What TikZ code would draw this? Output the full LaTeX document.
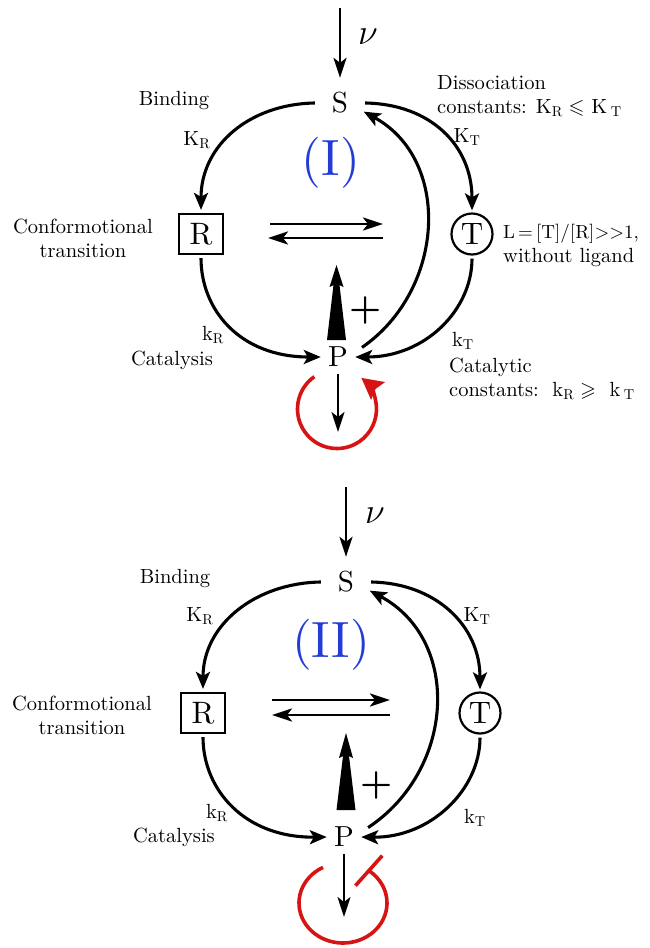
\documentclass[tikz,border=0pt]{standalone}
\usepackage{fix-cm}
\usepackage{amssymb}
\usepackage{fontspec}
\setmainfont{lmroman10-regular.otf}[BoldFont=lmroman10-bold.otf]
\usetikzlibrary{arrows.meta,calc}
\definecolor{myblue}{RGB}{35,60,215}
\definecolor{myred}{RGB}{215,20,20}
\tikzset{
  lbl/.style={font=\fontsize{20.5}{24}\selectfont, inner sep=0pt},
  lblL/.style={lbl, align=left, anchor=west},
  lblC/.style={lbl, align=center},
  let/.style={font=\fontsize{29}{32}\selectfont, circle, inner sep=0pt, minimum size=#1},
  boxR/.style={font=\fontsize{31}{32}\selectfont, rectangle, draw, line width=2.2pt, inner sep=0pt, minimum width=44pt, minimum height=40pt},
  circT/.style={font=\fontsize{31}{32}\selectfont, circle, draw, line width=2.2pt, inner sep=0pt, minimum size=41pt},
  roman/.style={font=\fontsize{51}{54}\selectfont, text=myblue, inner sep=0pt},
  nulbl/.style={font=\fontsize{36}{40}\selectfont, inner sep=0pt},
  pluslbl/.style={font=\fontsize{36}{40}\selectfont\bfseries, inner sep=0pt},
  curve/.style={line width=3.1pt, -{Stealth[length=17pt,width=14pt,inset=4pt]}},
  thinarr/.style={line width=2.2pt, -{Stealth[length=20pt,width=13pt,inset=5pt]}},
  eqarr/.style={line width=2.9pt, -{Stealth[length=20pt,width=13pt,inset=5pt]}},
  redloop/.style={line width=3.6pt, draw=myred},
}
\begin{document}
\begin{tikzpicture}[x=1pt,y=-1pt]
\useasboundingbox[fill=white] (0,0) rectangle (650,948);

%%%%%%%%%%%%%%%% Panel I %%%%%%%%%%%%%%%%
\node[let=50pt] (SI) at (340,103) {S};
\node[boxR] (RI) at (201,234) {R};
\node[circT] (TI) at (472,234) {T};
\node[let=34pt] (PI) at (338,357) {P};

\coordinate (nuIs) at (340,8);
\draw[thinarr] (nuIs) -- (SI.north);
\node[nulbl] (nuI) at (368,37) {$\nu$};

\node[lbl] (binI) at (174,100) {Binding};
\node[lbl] (KRI) at (197,140) {K$_\mathrm{R}$};
\node[lblL] (disI) at (437,96) {Dissociation\\constants: K$_\mathrm{R}\leqslant$ K\,$_\mathrm{T}$};
\node[lbl] (KTI) at (467,137) {K$_\mathrm{T}$};
\node[roman] (titleI) at (331,163) {(I)};
\node[lblC] (confI) at (83,238) {Conformotional\\transition};
\node[lblL] (LI) at (503,245) {{\fontsize{19}{24}\selectfont L\,=\,[T]/[R]>{}>1,}\\without ligand};
\node[lbl] (kRI) at (213,335) {k$_\mathrm{R}$};
\node[lbl] (catI) at (172,360) {Catalysis};
\node[lbl] (kTI) at (463,341) {k$_\mathrm{T}$};
\node[lblL] (catcI) at (449,379) {Catalytic\\constants:\ \ k$_\mathrm{R}\geqslant$\ \ k\,$_\mathrm{T}$};
\node[pluslbl] (plusI) at (366,310) {+};

\draw[curve] (SI.west) .. controls (250,104) and (201,145) .. ([yshift=3pt]RI.north);
\draw[curve] (SI.east) .. controls (430,104) and (472,145) .. ([yshift=2pt]TI.north);
\draw[curve, shorten <=3pt] (RI.south) .. controls (201,310) and (240,357) .. (PI.west);
\draw[curve, shorten <=3pt] (TI.south) .. controls (472,310) and (425,357) .. (PI.east);
\draw[curve, shorten <=9pt] (PI.15) .. controls (445,290) and (452,160) .. (SI.-20);

\coordinate (eqIa) at (270,224);
\coordinate (eqIb) at (383,224);
\coordinate (eqIc) at (383,238);
\coordinate (eqId) at (268,238);
\draw[eqarr] (eqIa) -- (eqIb);
\draw[eqarr] (eqIc) -- (eqId);

\fill (327,340) -- (333.5,285) -- (329.5,287) -- (336.5,265) -- (343.5,287) -- (339.5,285) -- (346,340) -- cycle;

\coordinate (outI) at (338,432);
\draw[thinarr] (PI.south) -- (outI);

\coordinate (cI) at (337,409);
\draw[redloop, -{Stealth[length=21pt,width=22pt,inset=3pt]}] ($(cI)+(125:39.5pt)$) arc[start angle=125, end angle=412, radius=39.5pt];

%%%%%%%%%%%%%%%% Panel II %%%%%%%%%%%%%%%%
\node[let=50pt] (SII) at (346,582) {S};
\node[boxR] (RII) at (203,713) {R};
\node[circT] (TII) at (480,713) {T};
\node[let=34pt] (PII) at (344,837) {P};

\coordinate (nuIIs) at (346,487);
\draw[thinarr] (nuIIs) -- (SII.north);
\node[nulbl] (nuII) at (375,516) {$\nu$};

\node[lbl] (binII) at (175,578) {Binding};
\node[lbl] (KRII) at (200,616) {K$_\mathrm{R}$};
\node[lbl] (KTII) at (477,616) {K$_\mathrm{T}$};
\node[roman] (titleII) at (331,645) {(II)};
\node[lblC] (confII) at (82,715) {Conformotional\\transition};
\node[lbl] (kRII) at (217,813) {k$_\mathrm{R}$};
\node[lbl] (catII) at (174,837) {Catalysis};
\node[lbl] (kTII) at (475,818) {k$_\mathrm{T}$};
\node[pluslbl] (plusII) at (377,785) {+};

\draw[curve] (SII.west) .. controls (255,583) and (203,625) .. ([yshift=3pt]RII.north);
\draw[curve] (SII.east) .. controls (435,583) and (480,625) .. ([yshift=2pt]TII.north);
\draw[curve, shorten <=3pt] (RII.south) .. controls (203,790) and (245,838) .. (PII.west);
\draw[curve, shorten <=3pt] (TII.south) .. controls (480,790) and (430,838) .. (PII.east);
\draw[curve, shorten <=9pt] (PII.15) .. controls (455,770) and (462,640) .. (SII.-20);

\coordinate (eqIIa) at (272,700);
\coordinate (eqIIb) at (390,700);
\coordinate (eqIIc) at (390,715);
\coordinate (eqIId) at (272,715);
\draw[eqarr] (eqIIa) -- (eqIIb);
\draw[eqarr] (eqIIc) -- (eqIId);

\fill (336.5,810) -- (343,756) -- (339,758) -- (346,733) -- (353,758) -- (349,756) -- (355.5,810) -- cycle;

\coordinate (outII) at (344,917);
\draw[thinarr] (PII.south) -- (outII);

\coordinate (cII) at (343,903);
\draw[redloop] ($(cII)+(117:44pt and 40pt)$) arc[start angle=117, end angle=414, x radius=44pt, y radius=40pt] coordinate (eII);
\draw[redloop] ($(eII)+(-13.4,15)$) -- ($(eII)+(13.4,-15)$);
\end{tikzpicture}
\end{document}
